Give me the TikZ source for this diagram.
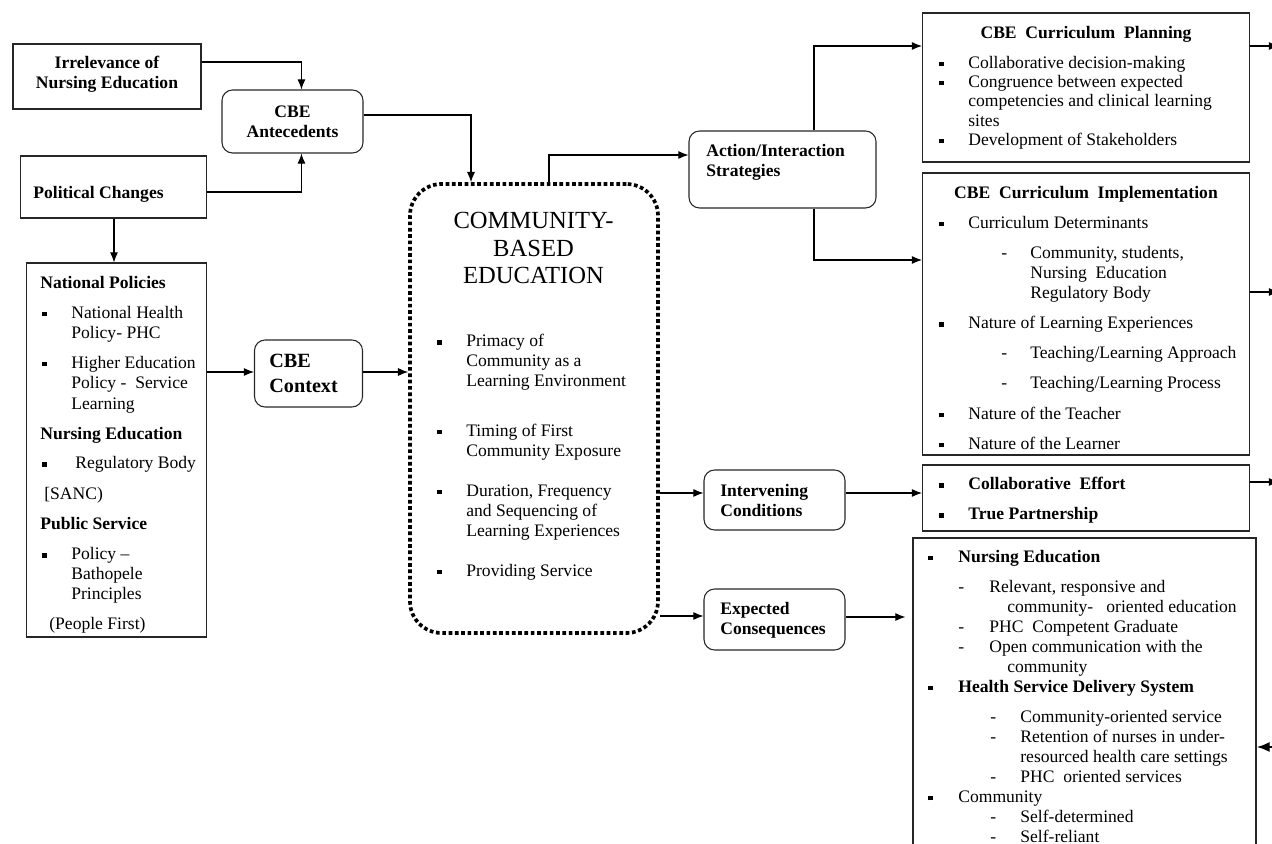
\documentclass[tikz,border=0pt]{standalone}
\usepackage{fontspec}
\setmainfont{Liberation Serif}
\usetikzlibrary{arrows.meta,calc,positioning}
\newlength{\pxu}
\setlength{\pxu}{0.02cm}
\newcommand{\bsq}{\rule[1.1pt]{2.5pt}{2.5pt}}
\newcommand{\bulpx}[2]{\hspace*{#1\pxu}\makebox[#2\pxu][l]{\bsq}}
\newcommand{\dashpx}[2]{\hspace*{#1\pxu}\makebox[#2\pxu][l]{-}}
\newcommand{\indpx}[1]{\hspace*{#1\pxu}}
\tikzset{
    boxsty/.style={draw=black!85, line width=0.6pt, rectangle, inner sep=0pt},
    rboxsty/.style={boxsty, rounded corners=6pt},
    dotsty/.style={draw, line width=2.1pt, dash pattern=on 2.1pt off 1.5pt, rounded corners=18pt, rectangle, inner sep=0pt},
    txtsty/.style={inner sep=0pt, anchor=north west, align=left, font=\fontsize{10}{11.4}\selectfont},
    boldsty/.style={txtsty, font=\fontsize{10}{11.4}\selectfont\bfseries},
    headsty/.style={boldsty, anchor=north, align=center},
    arrsty/.style={-{Latex[length=5.8pt,width=4.6pt]}, line width=0.6pt},
}

\begin{document}
\begin{tikzpicture}[x=0.02cm, y=-0.02cm]
\useasboundingbox (0,0) rectangle (1272,844);

% boxes
\node[boxsty, minimum width=188\pxu, minimum height=65\pxu] (irr) at (107,76.5) {};
\node[rboxsty, minimum width=141\pxu, minimum height=63\pxu] (ante) at (292.5,121.5) {};
\node[boxsty, minimum width=186\pxu, minimum height=62\pxu] (pol) at (113.5,187) {};
\node[boxsty, minimum width=180\pxu, minimum height=374\pxu] (natpol) at (116.5,450) {};
\node[rboxsty, minimum width=108\pxu, minimum height=67\pxu] (ctx) at (308.5,373.5) {};
\node[dotsty, minimum width=248\pxu, minimum height=449\pxu] (cbe) at (534,408.5) {};
\node[rboxsty, minimum width=187\pxu, minimum height=77\pxu] (act) at (782.5,169.5) {};
\node[boxsty, minimum width=327\pxu, minimum height=149\pxu] (plan) at (1086,87.5) {};
\node[boxsty, minimum width=327\pxu, minimum height=282\pxu] (impl) at (1086,314) {};
\node[boxsty, minimum width=327\pxu, minimum height=66\pxu] (collab) at (1086,498) {};
\node[rboxsty, minimum width=141\pxu, minimum height=60\pxu] (intv) at (774.5,500) {};
\node[rboxsty, minimum width=141\pxu, minimum height=61\pxu] (expc) at (774.5,619.5) {};
\node[boxsty, minimum width=343\pxu, minimum height=332\pxu] (outc) at (1084.5,704) {};

% texts
\node[headsty] (irrtxt) at (107,55.5) {Irrelevance of\\Nursing Education};
\node[headsty] (antetxt) at (292.5,105.5) {CBE\\Antecedents};
\node[boldsty] (poltxt) at (33,186) {Political Changes};
\node[boldsty, font=\fontsize{11.5}{14.2}\selectfont\bfseries] (ctxtxt) at (269,354) {CBE\\Context};
\node[boldsty] (acttxt) at (706,143.5) {Action/Interaction\\Strategies};
\node[boldsty] (intvtxt) at (720,484) {Intervening\\Conditions};
\node[boldsty] (expctxt) at (720,602) {Expected\\Consequences};
\node[headsty, font=\fontsize{14}{15.6}\selectfont] (cbetitle) at (533.5,212) {COMMUNITY-\\BASED\\EDUCATION};
\node[txtsty] (natlist) at (40,275.5) {%
\textbf{National Policies}\\[5.7pt]
\bulpx{2}{29}National Health\\
\indpx{31}Policy- PHC\\[5.7pt]
\bulpx{2}{29}Higher Education\\
\indpx{31}Policy -\ \ Service\\[0.6pt]
\indpx{31}Learning\\[5.7pt]
\textbf{Nursing Education}\\[5.3pt]
\bulpx{2}{33}Regulatory Body\\[6.3pt]
\indpx{4}[SANC)\\[5.5pt]
\textbf{Public Service}\\[5.7pt]
\bulpx{2}{29}Policy –\\
\indpx{31}Bathopele\\
\indpx{31}Principles\\[5.7pt]
\indpx{9}(People First)};
\node[txtsty] (cbelist) at (437,334) {%
\bulpx{0}{29}Primacy of\\
\indpx{29}Community as a\\
\indpx{29}Learning Environment\\[16.7pt]
\bulpx{0}{29}Timing of First\\
\indpx{29}Community Exposure\\[11.4pt]
\bulpx{0}{29}Duration, Frequency\\
\indpx{29}and Sequencing of\\
\indpx{29}Learning Experiences\\[11.4pt]
\bulpx{0}{29}Providing Service};
\node[headsty] (plantitle) at (1086,26) {CBE\ \ Curriculum\ \ Planning};
\node[txtsty, font=\fontsize{10}{11}\selectfont] (planlist) at (939,55.5) {%
\bulpx{0}{29}Collaborative decision-making\\
\bulpx{0}{29}Congruence between expected\\
\indpx{29}competencies and clinical learning\\
\indpx{29}sites\\
\bulpx{0}{29}Development of Stakeholders};
\node[headsty] (impltitle) at (1086,186) {CBE\ \ Curriculum\ \ Implementation};
\node[txtsty] (impllist) at (939,215.5) {%
\bulpx{0}{29}Curriculum Determinants\\[5.7pt]
\dashpx{62}{29}Community, students,\\
\indpx{91}Nursing\ \ Education\\
\indpx{91}Regulatory Body\\[6pt]
\bulpx{0}{29}Nature of Learning Experiences\\[5.3pt]
\dashpx{62}{29}Teaching/Learning Approach\\[6pt]
\dashpx{62}{29}Teaching/Learning Process\\[6pt]
\bulpx{0}{29}Nature of the Teacher\\[5.7pt]
\bulpx{0}{29}Nature of the Learner};
\node[boldsty] (collablist) at (939,477) {%
\bulpx{0}{29}Collaborative\ \ Effort\\[5.7pt]
\bulpx{0}{29}True Partnership};
\node[txtsty] (outclist) at (928,549.5) {%
\bulpx{0}{30}\textbf{Nursing Education}\\[5.7pt]
\dashpx{30}{31}Relevant, responsive and\\
\indpx{79}community-\ \ \ oriented education\\
\dashpx{30}{31}PHC\ \ Competent Graduate\\
\dashpx{30}{31}Open communication with the\\
\indpx{79}community\\
\bulpx{0}{30}\textbf{Health Service Delivery System}\\[5.7pt]
\dashpx{62}{30}Community-oriented service\\
\dashpx{62}{30}Retention of nurses in under-\\
\indpx{92}resourced health care settings\\
\dashpx{62}{30}PHC\ \ oriented services\\
\bulpx{0}{30}Community\\
\dashpx{62}{30}Self-determined\\
\dashpx{62}{30}Self-reliant};

% free ends at the right border
\coordinate (exit1) at (1279,46);
\coordinate (exit2) at (1279,292);
\coordinate (exit3) at (1279,482);
\coordinate (entry1) at (1290,747);

% connectors
\draw[arrsty] (irr.east |- 0,62) -| ([xshift=5.1pt]ante.north);
\draw[arrsty] (pol.east |- 0,192) -| ([xshift=5.1pt]ante.south);
\draw[arrsty] (ante.east |- 0,115) -| (cbe.north -| 471,0);
\draw[arrsty] (pol.south -| 114,0) -- (natpol.north -| 114,0);
\draw[arrsty] (natpol.east |- 0,372) -- (ctx.west |- 0,372);
\draw[arrsty] (ctx.east |- 0,372) -- (cbe.west |- 0,372);
\draw[arrsty] (cbe.north -| 549,0) |- (act.west |- 0,155);
\draw[arrsty] (act.north -| 814,0) |- (plan.west |- exit1);
\draw[arrsty] (act.south -| 814,0) |- (impl.west |- 0,260);
\draw[arrsty] (cbe.east |- 0,493) -- (intv.west |- 0,493);
\draw[arrsty] (intv.east |- 0,493) -- (collab.west |- 0,493);
\draw[arrsty] (cbe.east |- 0,616) -- (expc.west |- 0,616);
\draw[arrsty] (expc.east |- 0,617) -- ([xshift=-4pt]outc.west |- 0,617);
\draw[arrsty] (plan.east |- exit1) -- (exit1);
\draw[arrsty] (impl.east |- exit2) -- (exit2);
\draw[arrsty] (collab.east |- exit3) -- (exit3);
\draw[line width=1.3pt, -{Latex[length=7.5pt,width=5.8pt]}] (entry1) -- (outc.east |- entry1);
\end{tikzpicture}
\end{document}
